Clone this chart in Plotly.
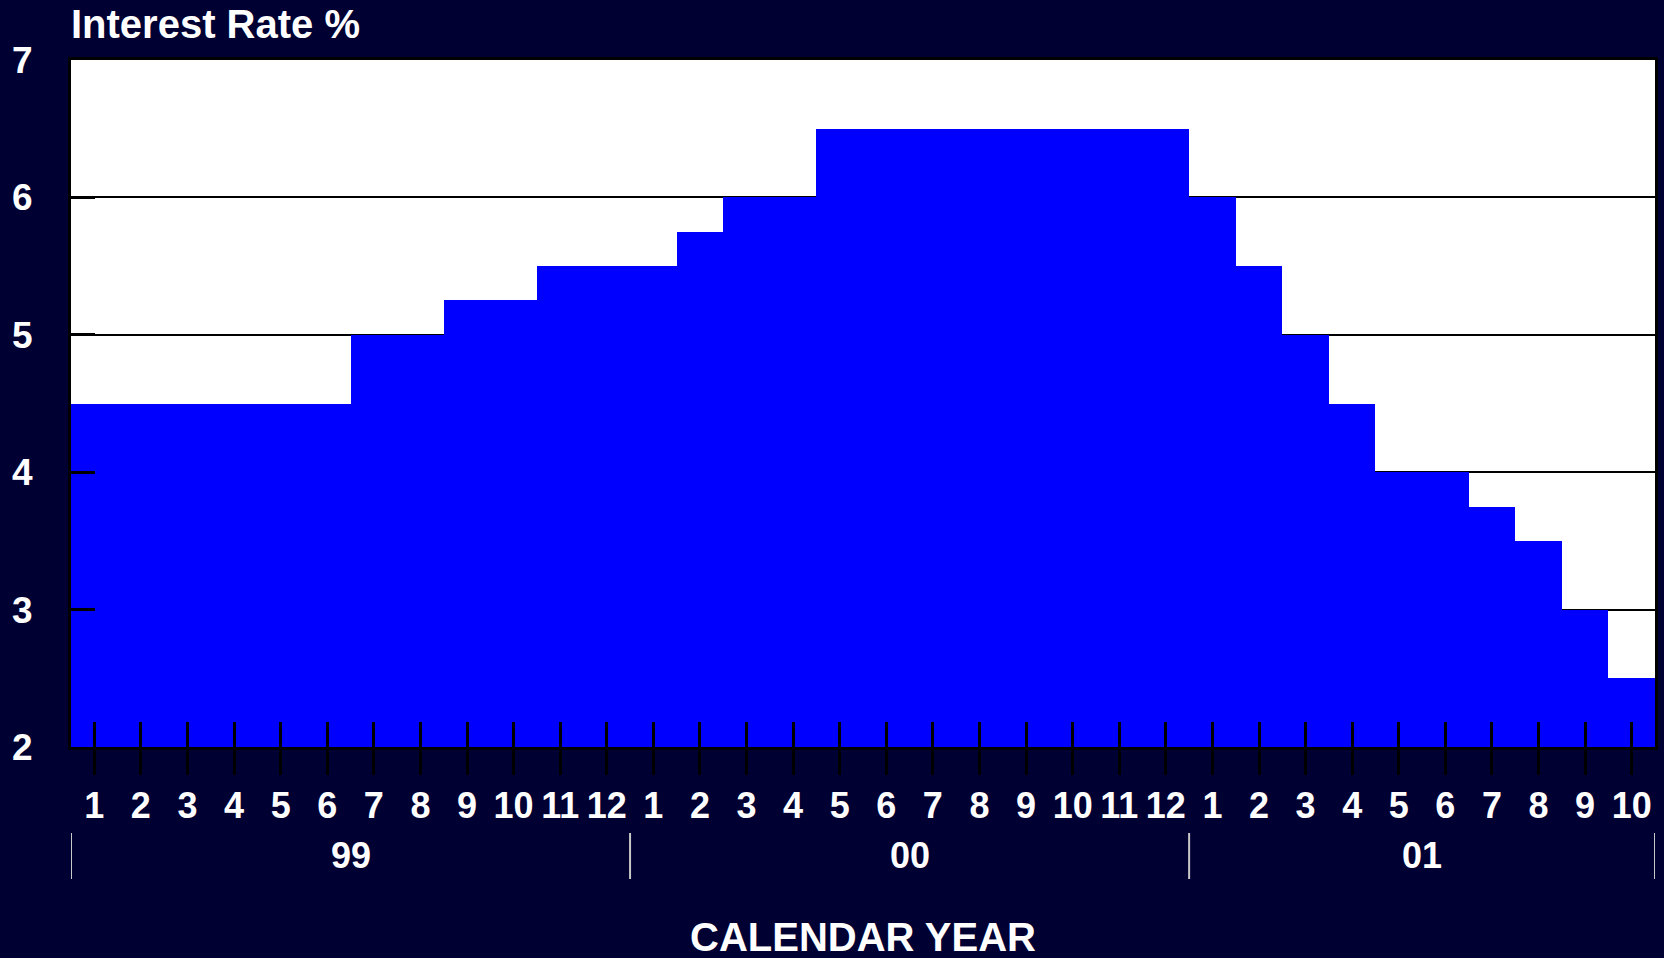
import plotly.graph_objects as go

# ---- data ----
years = ["99", "00", "01"]
months_per_year = [12, 12, 10]
month_labels = [str(m) for m in range(1, 13)] + [str(m) for m in range(1, 13)] + [str(m) for m in range(1, 11)]
rates = [4.5, 4.5, 4.5, 4.5, 4.5, 4.5, 5.0, 5.0, 5.25, 5.25, 5.5, 5.5,
         5.5, 5.75, 6.0, 6.0, 6.5, 6.5, 6.5, 6.5, 6.5, 6.5, 6.5, 6.5,
         6.0, 5.5, 5.0, 4.5, 4.0, 4.0, 3.75, 3.5, 3.0, 2.5]
y_ticks = [2, 3, 4, 5, 6, 7]

BG = "#000033"
FONT = "Liberation Sans, Arial, sans-serif"

x = list(range(1, len(rates) + 1))

fig = go.Figure()
fig.add_trace(go.Bar(x=x, y=rates, marker=dict(color="#0000FF", line=dict(width=0)),
                     hoverinfo="x+y", showlegend=False))
# invisible trace to create the overlay axis (for crossing ticks)
fig.add_trace(go.Scatter(x=[x[0]], y=[rates[0]], xaxis="x2", mode="markers",
                         marker=dict(opacity=0), showlegend=False, hoverinfo="skip"))

fig.update_layout(
    width=1664, height=958,
    paper_bgcolor=BG, plot_bgcolor="white",
    margin=dict(l=71, r=6, t=60, b=211),
    bargap=0,
    font=dict(family=FONT, color="white"),
    title=dict(text="Interest Rate %", x=71 / 1664, xanchor="left", xref="container",
               y=1 - 24 / 958, yanchor="middle",
               font=dict(size=40, family=FONT, color="white", weight="bold")),
    xaxis=dict(range=[0.5, len(rates) + 0.5], tickmode="array", tickvals=x, ticktext=month_labels,
               ticks="outside", ticklen=25, tickwidth=3, tickcolor="black",
               showline=True, linewidth=3, linecolor="black", mirror=True,
               showgrid=False, zeroline=False,
               tickfont=dict(size=36, family=FONT, color="white", weight="bold")),
    xaxis2=dict(overlaying="x", matches="x", anchor="y", side="bottom",
                range=[0.5, len(rates) + 0.5], tickmode="array", tickvals=x,
                ticks="inside", ticklen=25, tickwidth=3, tickcolor="black",
                showticklabels=False, showline=False, showgrid=False, zeroline=False),
    yaxis=dict(range=[2, 7], tickmode="array", tickvals=y_ticks, ticktext=[str(v) for v in y_ticks],
               ticks="inside", ticklen=24, tickwidth=3, tickcolor="black",
               showline=True, linewidth=3, linecolor="black", mirror=True,
               showgrid=True, gridcolor="black", gridwidth=2.3, zeroline=False,
               ticklabelstandoff=28,
               tickfont=dict(size=37, family=FONT, color="white", weight="bold")),
)

# year labels and separators, derived from month counts
plot_h = 958 - 60 - 211
start = 0.5
bounds = [start]
for yr, n in zip(years, months_per_year):
    center = start + n / 2
    fig.add_annotation(x=center, xref="x", y=(747 - 855) / plot_h, yref="paper",
                       text=yr, showarrow=False, yanchor="middle",
                       font=dict(size=36, family=FONT, color="white", weight="bold"))
    start += n
    bounds.append(start)
for b in bounds:
    fig.add_shape(type="line", xref="x", yref="paper", x0=b, x1=b,
                  y0=(747 - 833) / plot_h, y1=(747 - 879) / plot_h,
                  line=dict(color="#c8c8c8", width=2))

fig.add_annotation(x=0.5, xref="paper", y=(747 - 937) / plot_h, yref="paper",
                   text="CALENDAR YEAR", showarrow=False, yanchor="middle",
                   font=dict(size=40, family=FONT, color="white", weight="bold"))

fig.write_html("out.html", config={"displayModeBar": False},
               post_script="document.body.style.margin='0';document.body.style.padding='0';"
                           "document.body.style.background='" + BG + "';")
